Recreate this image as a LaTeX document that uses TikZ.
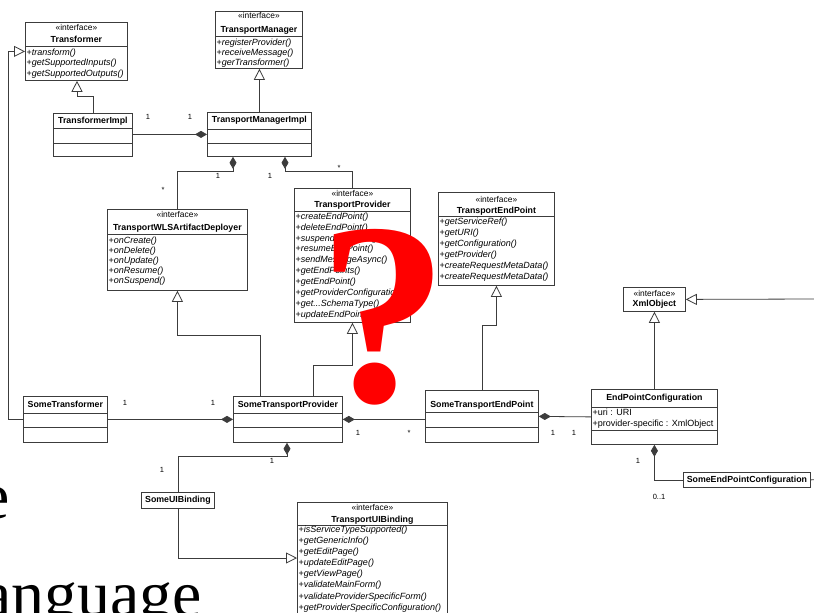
\documentclass[tikz,border=0pt]{standalone}
\usepackage{fontspec}
\setmainfont{Liberation Serif}
\newfontfamily\umlf{Liberation Sans}
\usetikzlibrary{arrows.meta}
\definecolor{linec}{HTML}{3C3C3C}
\definecolor{qred}{HTML}{FF0000}
\newcommand\tdots{...}
\newcommand\umlmethods[4]{% box, first baseline offset, spacing, list
  \foreach \mm [count=\ii from 0] in {#4}
    \node[meth] (#1-m\ii) at ([xshift=1.5pt,yshift={-(#2+\ii*#3)*1pt}]#1.north west) {+\textit{\mm}};
}
\newcommand\hdiv[2]{\draw[boxline] ([yshift=-#2pt]#1.north west) -- ([yshift=-#2pt]#1.north east);}
\tikzset{
  boxline/.style={draw=linec, line width=0.8pt},
  box/.style={boxline, fill=white, inner sep=0pt, anchor=north west},
  stereo/.style={font=\umlf\fontsize{8.4}{9}\selectfont, anchor=base, inner sep=0pt},
  cname/.style={font=\umlf\bfseries\fontsize{8.8}{10}\selectfont, anchor=base, inner sep=0pt},
  meth/.style={font=\umlf\fontsize{9}{10}\selectfont, anchor=base west, inner sep=0pt},
  mult/.style={font=\umlf\fontsize{7.5}{8}\selectfont, inner sep=0pt},
  conn/.style={draw=linec, line width=0.8pt},
  gen/.style={conn, -{Triangle[open,fill=white,length=11pt,width=11pt]}},
  comp/.style={conn, {Diamond[length=12pt,width=7pt]}-},
  bigtext/.style={font=\fontsize{66}{70}\selectfont, inner sep=0pt},
}
\begin{document}
\begin{tikzpicture}[x=1pt, y=-1pt]
\useasboundingbox (0,0) rectangle (814,613);
\clip (0,0) rectangle (814,613);
\fill[white] (0,0) rectangle (814,613);

% ---------- boxes ----------
\node[box, minimum width=102pt, minimum height=58pt] (tr) at (25,22) {};
\node[box, minimum width=87pt, minimum height=57pt] (tm) at (215,11) {};
\node[box, minimum width=79pt, minimum height=43pt] (tri) at (53,113) {};
\node[box, minimum width=104pt, minimum height=44pt] (tmi) at (207,112) {};
\node[box, minimum width=140pt, minimum height=81pt] (twls) at (107,209) {};
\node[box, minimum width=116pt, minimum height=134pt] (tp) at (294,188) {};
\node[box, minimum width=116pt, minimum height=93pt] (tep) at (438,192) {};
\node[box, minimum width=62pt, minimum height=24pt] (xo) at (623,287) {};
\node[box, minimum width=126pt, minimum height=55pt] (epc) at (591,389) {};
\node[box, minimum width=127pt, minimum height=15pt] (sepc) at (683,472) {};
\node[box, minimum width=84pt, minimum height=46pt] (str) at (23,396) {};
\node[box, minimum width=109pt, minimum height=46pt] (stp) at (233,396) {};
\node[box, minimum width=113pt, minimum height=52pt] (step) at (425,390) {};
\node[box, minimum width=73pt, minimum height=16pt] (suib) at (141,492) {};
\node[box, minimum width=150pt, minimum height=115pt] (tuib) at (297,502) {};

% ---------- dividers ----------
\hdiv{tr}{24}
\hdiv{tm}{25}
\hdiv{tri}{15}\hdiv{tri}{30}
\hdiv{tmi}{17}\hdiv{tmi}{31}
\hdiv{twls}{25}
\hdiv{tp}{23}
\hdiv{tep}{24}
\hdiv{epc}{18}\hdiv{epc}{41}
\hdiv{str}{17}\hdiv{str}{31}
\hdiv{stp}{17}\hdiv{stp}{31}
\hdiv{step}{22.7}\hdiv{step}{37.3}
\hdiv{tuib}{23}

% ---------- titles ----------
\node[stereo] (tr-s) at ([yshift=-8.2pt]tr.north) {«interface»};
\node[cname] (tr-n) at ([yshift=-20.2pt]tr.north) {Transformer};
\node[stereo] (tm-s) at ([yshift=-7.4pt]tm.north) {«interface»};
\node[cname] (tm-n) at ([yshift=-21.2pt]tm.north) {TransportManager};
\node[cname] (tri-n) at ([yshift=-10.3pt]tri.north) {TransformerImpl};
\node[cname] (tmi-n) at ([yshift=-10.3pt]tmi.north) {TransportManagerImpl};
\node[stereo] (twls-s) at ([yshift=-8pt]twls.north) {«interface»};
\node[cname] (twls-n) at ([yshift=-21.2pt]twls.north) {TransportWLSArtifactDeployer};
\node[stereo] (tp-s) at ([yshift=-8.9pt]tp.north) {«interface»};
\node[cname] (tp-n) at ([yshift=-19.2pt]tp.north) {TransportProvider};
\node[stereo] (tep-s) at ([yshift=-10.2pt]tep.north) {«interface»};
\node[cname] (tep-n) at ([yshift=-21.2pt]tep.north) {TransportEndPoint};
\node[stereo] (xo-s) at ([yshift=-9.2pt]xo.north) {«interface»};
\node[cname] (xo-n) at ([yshift=-19.4pt]xo.north) {XmlObject};
\node[cname] (epc-n) at ([yshift=-11.2pt]epc.north) {EndPointConfiguration};
\node[cname] (sepc-n) at ([yshift=-10.7pt]sepc.north) {SomeEndPointConfiguration};
\node[cname] (str-n) at ([yshift=-11.2pt]str.north) {SomeTransformer};
\node[cname] (stp-n) at ([yshift=-11.2pt]stp.north) {SomeTransportProvider};
\node[cname] (step-n) at ([yshift=-17.2pt]step.north) {SomeTransportEndPoint};
\node[cname] (suib-n) at ([yshift=-10.8pt]suib.north) {SomeUIBinding};
\node[stereo] (tuib-s) at ([yshift=-8.5pt]tuib.north) {«interface»};
\node[cname] (tuib-n) at ([yshift=-20.5pt]tuib.north) {TransportUIBinding};

% ---------- members ----------
\umlmethods{tr}{33.2}{10.5}{transform(),getSupportedInputs(),getSupportedOutputs()}
\umlmethods{tm}{34.2}{10}{registerProvider(),receiveMessage(),gerTransformer()}
\umlmethods{twls}{34.9}{10}{onCreate(),onDelete(),onUpdate(),onResume(),onSuspend()}
\umlmethods{tp}{31.2}{10.9}{createEndPoint(),deleteEndPoint(),suspendEndPoint(),resumeEndPoint(),sendMessageAsync(),getEndPoints(),getEndPoint(),getProviderConfiguration(),get\tdots SchemaType(),updateEndPoint()}
\umlmethods{tep}{32.2}{11.1}{getServiceRef(),getURI(),getConfiguration(),getProvider(),createRequestMetaData(),createRequestMetaData()}
\umlmethods{tuib}{30.7}{11.05}{isServiceTypeSupported(),getGenericInfo(),getEditPage(),updateEditPage(),getViewPage(),validateMainForm(),validateProviderSpecificForm(),getProviderSpecificConfiguration()}
\node[meth] (epc-a0) at ([xshift=1.5pt,yshift=-26.5pt]epc.north west) {+uri : URI};
\node[meth] (epc-a1) at ([xshift=1.5pt,yshift=-37pt]epc.north west) {+provider-specific : XmlObject};

% ---------- connectors ----------
\coordinate (xr) at (816,299);
\coordinate (sr) at (816,479.5);
\coordinate (stepT) at ([xshift=57pt]step.north west);
\draw[comp] (tmi.west) -- (tri.east |- tmi.west);
\draw[gen] (tri.north) -- ++(0,-17) -| ([xshift=52pt]tr.south west);
\draw[gen] (tmi.north) -- (tmi.north |- tm.south);
\draw[comp] ([xshift=26pt]tmi.south west) -- ++(0,15) -| (twls.north);
\draw[comp] ([xshift=78pt]tmi.south west) -- ++(0,15) -| (tp.north);
\draw[gen] ([xshift=27pt]stp.north west) -- ++(0,-61) -| (twls.south);
\draw[gen] ([xshift=80pt]stp.north west) -- ++(0,-31) -| (tp.south);
\draw[gen] (stepT) -- ++(0,-65) -| (tep.south);
\draw[gen] (epc.north) -- (xo.south);
\draw[gen] (xr) -- (xo.east);
\draw[comp] (stp.west) -- (str.east |- stp.west);
\draw[gen] (str.west) -- ++(-15,0) |- (tr.west);
\draw[comp] (stp.east) -- (step.west |- stp.east);
\draw[comp] (step.east) -- (epc.west);
\draw[comp] (epc.south) |- (sepc.west);
\draw[conn] (sepc.east) -- (sr);
\draw[comp] ([xshift=54pt]stp.south west) -- ++(0,14) -| (suib.north);
\draw[gen] (suib.south) |- ([yshift=-56pt]tuib.north west);

% ---------- multiplicities ----------
\node[mult] (l1) at (148,117) {1};
\node[mult] (l2) at (190,117) {1};
\node[mult] (l3) at (218,176) {1};
\node[mult] (l4) at (163,189.5) {*};
\node[mult] (l5) at (270,176) {1};
\node[mult] (l6) at (339,167.5) {*};
\node[mult] (l7) at (125,403) {1};
\node[mult] (l8) at (213,403) {1};
\node[mult] (l9) at (358,433) {1};
\node[mult] (l10) at (409,432.5) {*};
\node[mult] (l11) at (553,433) {1};
\node[mult] (l12) at (574,433) {1};
\node[mult] (l13) at (638,461) {1};
\node[mult] (l14) at (659,497) {0..1};
\node[mult] (l15) at (272,461) {1};
\node[mult] (l16) at (162,470) {1};

% ---------- overlay text ----------
\node[bigtext, anchor=base east] (te) at (9.5,518) {e};
\node[bigtext, anchor=base west] (tl) at (-18,616) {anguage};
\node[font=\bfseries\fontsize{260}{260}\selectfont, text=qred, inner sep=0pt, anchor=base west] (qm) at (318,401) {?};
\end{tikzpicture}
\end{document}
